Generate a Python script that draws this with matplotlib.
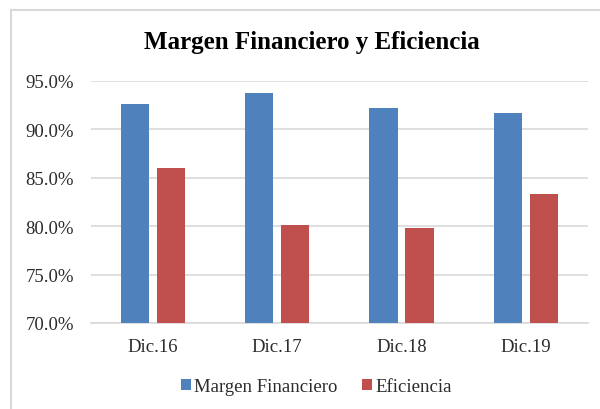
#!/usr/bin/env python3
# grouped bar chart, margen financiero vs eficiencia, excel look

import matplotlib
matplotlib.use("Agg")
import matplotlib.pyplot as plt
from matplotlib.lines import Line2D
from matplotlib.ticker import FuncFormatter
import numpy as np

categories = ["Dic.16", "Dic.17", "Dic.18", "Dic.19"]
margen = [0.926, 0.938, 0.922, 0.917]
eficiencia = [0.860, 0.801, 0.798, 0.833]
yticks = [0.70, 0.75, 0.80, 0.85, 0.90, 0.95]

BLUE = "#4F81BD"
RED = "#C0504D"
GRID = "#D9D9D9"
TEXT = "#2b2b2b"

plt.rcParams["font.family"] = ["Liberation Serif", "DejaVu Serif"]

fig = plt.figure(figsize=(6, 4.1), dpi=100)
ax = fig.add_axes([0.151, 0.21, 0.829, 0.59])

x = np.arange(len(categories))
w = 0.228
ax.bar(x - 0.144, margen, width=w, color=BLUE, label="Margen Financiero", zorder=3)
ax.bar(x + 0.144, eficiencia, width=w, color=RED, label="Eficiencia", zorder=3)

ax.set_xlim(-0.5, len(categories) - 0.5)
ax.set_ylim(0.70, 0.95)
ax.set_yticks(yticks)
ax.yaxis.set_major_formatter(FuncFormatter(lambda v, _: f"{v * 100:.1f}%"))
ax.set_xticks(x)
ax.set_xticklabels(categories)
ax.tick_params(length=0, labelsize=13.5, colors=TEXT)
ax.tick_params(axis="y", pad=12)
ax.tick_params(axis="x", pad=11)
ax.grid(axis="y", color=GRID, linewidth=1.2, zorder=0)
for s in ["top", "right", "left"]:
    ax.spines[s].set_visible(False)
ax.spines["bottom"].set_color(GRID)
ax.spines["bottom"].set_linewidth(1.2)

fig.text(0.519, 1 - 43 / 410, "Margen Financiero y Eficiencia", ha="center",
         va="center", fontsize=18, fontweight="bold", color="black")

fig.legend(loc="center", bbox_to_anchor=(0.527, 1 - 388 / 410), ncol=2,
           frameon=False, fontsize=13.5, handlelength=0.53, handleheight=0.53,
           handletextpad=0.18, columnspacing=1.3, labelcolor=TEXT,
           borderpad=0, borderaxespad=0)

# chart frame, only left and top visible in the crop
bx = 11 / 600
by = 1 - 11 / 410
fig.add_artist(Line2D([bx, bx], [0, by], color=GRID, linewidth=1.5))
fig.add_artist(Line2D([bx, 1], [by, by], color=GRID, linewidth=1.5))

fig.savefig("out.png", dpi=100)
